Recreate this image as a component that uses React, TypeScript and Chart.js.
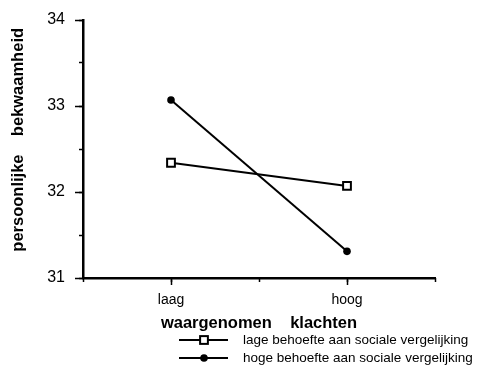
import { useEffect, useRef } from 'react';
import { Chart, registerables } from 'chart.js';

Chart.register(...registerables);

const categories = ['laag', 'hoog'];
const categoryPositions = [1, 3];
const lageValues = [32.34, 32.07];
const hogeValues = [33.07, 31.31];
const seriesLabels = [
  'lage behoefte aan sociale vergelijking',
  'hoge behoefte aan sociale vergelijking',
];
const yMajorTicks = [31, 32, 33, 34];
const xTitle = 'waargenomen    klachten';
const yTitle = '    persoonlijke    bekwaamheid';

const FONT = '"Liberation Sans", Arial, Helvetica, sans-serif';

const legendPlugin = {
  id: 'customLegend',
  afterDraw(chart: any) {
    const ctx = chart.ctx as CanvasRenderingContext2D;
    const rows = [340, 358];
    chart.data.datasets.forEach((ds: any, i: number) => {
      const y = rows[i];
      ctx.save();
      ctx.strokeStyle = '#000';
      ctx.lineWidth = 2;
      ctx.beginPath();
      ctx.moveTo(179, y);
      ctx.lineTo(228, y);
      ctx.stroke();
      const cx = 204;
      if (ds.pointStyle === 'rect') {
        const s = ds.pointRadius * Math.SQRT1_2;
        ctx.fillStyle = '#fff';
        ctx.fillRect(cx - s, y - s, 2 * s, 2 * s);
        ctx.lineWidth = ds.pointBorderWidth;
        ctx.strokeRect(cx - s, y - s, 2 * s, 2 * s);
      } else {
        ctx.fillStyle = '#000';
        ctx.beginPath();
        ctx.arc(cx, y, ds.pointRadius, 0, Math.PI * 2);
        ctx.fill();
      }
      ctx.fillStyle = '#000';
      ctx.font = `13.5px ${FONT}`;
      ctx.textBaseline = 'middle';
      ctx.textAlign = 'left';
      ctx.fillText(ds.label, 243, y);
      ctx.restore();
    });
  },
};

export default function App() {
  const ref = useRef<HTMLCanvasElement>(null);
  useEffect(() => {
    document.body.style.margin = '0';
    const chart = new Chart(ref.current!, {
      type: 'line',
      data: {
        datasets: [
          {
            label: seriesLabels[0],
            data: categoryPositions.map((x, i) => ({ x, y: lageValues[i] })),
            borderColor: '#000',
            borderWidth: 2,
            tension: 0,
            pointStyle: 'rect',
            pointRadius: 5.5,
            pointBackgroundColor: '#fff',
            pointBorderColor: '#000',
            pointBorderWidth: 2,
            xAxisID: 'x',
            yAxisID: 'y',
          },
          {
            label: seriesLabels[1],
            data: categoryPositions.map((x, i) => ({ x, y: hogeValues[i] })),
            borderColor: '#000',
            borderWidth: 2,
            tension: 0,
            pointStyle: 'circle',
            pointRadius: 3.8,
            pointBackgroundColor: '#000',
            pointBorderColor: '#000',
            pointBorderWidth: 0,
            xAxisID: 'x',
            yAxisID: 'y',
          },
        ],
      },
      options: {
        responsive: false,
        animation: false,
        layout: { padding: { top: 20, right: 44, bottom: 36, left: 0 } },
        plugins: { legend: { display: false }, tooltip: { enabled: false } },
        scales: {
          x: {
            type: 'linear',
            min: 0,
            max: 4,
            position: 'bottom',
            afterBuildTicks: (s: any) => {
              s.ticks = categoryPositions.map((v) => ({ value: v }));
            },
            afterFit: (s: any) => {
              s.height = 55;
            },
            grid: { drawOnChartArea: false, tickLength: 7, tickWidth: 1.5, tickColor: '#000' },
            border: { display: true, color: '#000', width: 2.5 },
            ticks: {
              autoSkip: false,
              maxRotation: 0,
              padding: 7,
              color: '#000',
              font: { family: FONT, size: 14 },
              callback: (v: any) => {
                const idx = categoryPositions.indexOf(Number(v));
                return idx >= 0 ? categories[idx] : '';
              },
            },
            title: {
              display: true,
              text: xTitle,
              color: '#000',
              padding: 0,
              font: { family: FONT, size: 16.5, weight: 'bold' },
            },
          },
          x2: {
            type: 'linear',
            min: 0,
            max: 4,
            position: 'bottom',
            weight: -1,
            afterFit: (s: any) => {
              s.height = 0;
            },
            ticks: { stepSize: 1, display: false },
            grid: { drawOnChartArea: false, tickLength: 4, tickWidth: 1.5, tickColor: '#000' },
            border: { display: false },
          },
          y: {
            type: 'linear',
            min: 31,
            max: 34,
            position: 'left',
            afterBuildTicks: (s: any) => {
              s.ticks = yMajorTicks.map((v) => ({ value: v }));
            },
            afterFit: (s: any) => {
              s.width = 83;
            },
            grid: { drawOnChartArea: false, tickLength: 8, tickWidth: 1.5, tickColor: '#000' },
            border: { display: true, color: '#000', width: 2.5 },
            ticks: {
              padding: 10,
              color: '#000',
              font: { family: FONT, size: 16 },
            },
            title: {
              display: true,
              text: yTitle,
              color: '#000',
              padding: { top: 9, bottom: 0 },
              font: { family: FONT, size: 16.5, weight: 'bold' },
            },
          },
          y2: {
            type: 'linear',
            min: 31,
            max: 34,
            position: 'left',
            weight: -1,
            afterFit: (s: any) => {
              s.width = 0;
            },
            ticks: { stepSize: 0.5, display: false },
            grid: { drawOnChartArea: false, tickLength: 4, tickWidth: 1.5, tickColor: '#000' },
            border: { display: false },
          },
        },
      } as any,
      plugins: [legendPlugin],
    });
    return () => chart.destroy();
  }, []);
  return <canvas ref={ref} width={479} height={369} style={{ display: 'block' }} />;
}
